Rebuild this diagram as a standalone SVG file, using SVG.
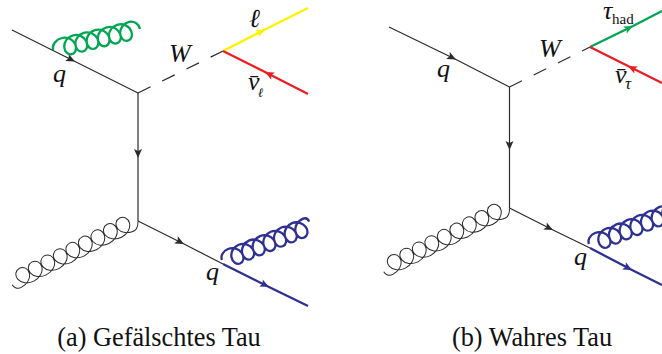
<svg xmlns="http://www.w3.org/2000/svg" width="662" height="354" viewBox="0 0 662 354">
<style>
.k{fill:none;stroke:#2b2b2b;stroke-width:1.2}
.d{stroke-dasharray:14 13}
.y,.r,.g,.b{fill:none;stroke-width:2.3}
.y{stroke:#fff200}.r{stroke:#ed1c24}.g{stroke:#00a651}.b{stroke:#2e3192}
.coil{fill:none}
.gk{stroke:#2b2b2b;stroke-width:1}
text{font-family:"Liberation Serif","Times New Roman",serif;fill:#111}
.m{font-size:26px;font-style:italic}
.s{font-size:17px;font-style:italic}
.u{font-size:15px}
.c{font-size:26.300px;text-anchor:middle}
</style>
<defs>
<marker id="ak" markerUnits="userSpaceOnUse" markerWidth="12" markerHeight="10" refX="10" refY="5" orient="auto" overflow="visible"><path d="M1 1L10 5L1 9L3 5Z" fill="#2b2b2b"/></marker>
<marker id="ay" markerUnits="userSpaceOnUse" markerWidth="12" markerHeight="10" refX="10" refY="5" orient="auto" overflow="visible"><path d="M1 1L10 5L1 9L3 5Z" fill="#fff200"/></marker>
<marker id="ar" markerUnits="userSpaceOnUse" markerWidth="12" markerHeight="10" refX="10" refY="5" orient="auto" overflow="visible"><path d="M1 1L10 5L1 9L3 5Z" fill="#ed1c24"/></marker>
<marker id="ag" markerUnits="userSpaceOnUse" markerWidth="12" markerHeight="10" refX="10" refY="5" orient="auto" overflow="visible"><path d="M1 1L10 5L1 9L3 5Z" fill="#00a651"/></marker>
<marker id="ab" markerUnits="userSpaceOnUse" markerWidth="12" markerHeight="10" refX="10" refY="5" orient="auto" overflow="visible"><path d="M1 1L10 5L1 9L3 5Z" fill="#2e3192"/></marker>
<path id="coil6" class="coil" d="M-11.500 9.600C-11.500 4 -6 0 0 0
c5.700 0 10.375 4 11.375 9c1 5 -1.925 9 -5.625 9c-3.700 0 -6.625 -4 -5.625 -9c1 -5 5.675 -9 11.375 -9
c5.700 0 10.375 4 11.375 9c1 5 -1.925 9 -5.625 9c-3.700 0 -6.625 -4 -5.625 -9c1 -5 5.675 -9 11.375 -9
c5.700 0 10.375 4 11.375 9c1 5 -1.925 9 -5.625 9c-3.700 0 -6.625 -4 -5.625 -9c1 -5 5.675 -9 11.375 -9
c5.700 0 10.375 4 11.375 9c1 5 -1.925 9 -5.625 9c-3.700 0 -6.625 -4 -5.625 -9c1 -5 5.675 -9 11.375 -9
c5.700 0 10.375 4 11.375 9c1 5 -1.925 9 -5.625 9c-3.700 0 -6.625 -4 -5.625 -9c1 -5 5.675 -9 11.375 -9
c5.700 0 10.375 4 11.375 9c1 5 -1.925 9 -5.625 9c-3.700 0 -6.625 -4 -5.625 -9c1 -5 5.675 -9 11.375 -9
c5 0 9 4 9 9.400"/>
<path id="coil7" class="coil" d="M-9.700 8C-9.700 4 -6 0 0 0
c5.700 0 10.375 4 11.375 9c1 5 -1.925 9 -5.625 9c-3.700 0 -6.625 -4 -5.625 -9c1 -5 5.675 -9 11.375 -9
c5.700 0 10.375 4 11.375 9c1 5 -1.925 9 -5.625 9c-3.700 0 -6.625 -4 -5.625 -9c1 -5 5.675 -9 11.375 -9
c5.700 0 10.375 4 11.375 9c1 5 -1.925 9 -5.625 9c-3.700 0 -6.625 -4 -5.625 -9c1 -5 5.675 -9 11.375 -9
c5.700 0 10.375 4 11.375 9c1 5 -1.925 9 -5.625 9c-3.700 0 -6.625 -4 -5.625 -9c1 -5 5.675 -9 11.375 -9
c5.700 0 10.375 4 11.375 9c1 5 -1.925 9 -5.625 9c-3.700 0 -6.625 -4 -5.625 -9c1 -5 5.675 -9 11.375 -9
c5.700 0 10.375 4 11.375 9c1 5 -1.925 9 -5.625 9c-3.700 0 -6.625 -4 -5.625 -9c1 -5 5.675 -9 11.375 -9
c5.700 0 10.375 4 11.375 9c1 5 -1.925 9 -5.625 9c-3.700 0 -6.625 -4 -5.625 -9c1 -5 5.675 -9 11.375 -9
c3 0 5 2 5 5"/>
<path id="coil9" class="coil" d="M-8 7C-6 3 -3 0 0 0
c6.700 0 12.300 4 13.500 9c1.200 5 -2.200 9 -6.500 9c-4.300 0 -7.700 -4 -6.500 -9c1.200 -5 6.800 -9 13.500 -9
c6.700 0 12.300 4 13.500 9c1.200 5 -2.200 9 -6.500 9c-4.300 0 -7.700 -4 -6.500 -9c1.200 -5 6.800 -9 13.500 -9
c6.700 0 12.300 4 13.500 9c1.200 5 -2.200 9 -6.500 9c-4.300 0 -7.700 -4 -6.500 -9c1.200 -5 6.800 -9 13.500 -9
c6.700 0 12.300 4 13.500 9c1.200 5 -2.200 9 -6.500 9c-4.300 0 -7.700 -4 -6.500 -9c1.200 -5 6.800 -9 13.500 -9
c6.700 0 12.300 4 13.500 9c1.200 5 -2.200 9 -6.500 9c-4.300 0 -7.700 -4 -6.500 -9c1.200 -5 6.800 -9 13.500 -9
c6.700 0 12.300 4 13.500 9c1.200 5 -2.200 9 -6.500 9c-4.300 0 -7.700 -4 -6.500 -9c1.200 -5 6.800 -9 13.500 -9
c6.700 0 12.300 4 13.500 9c1.200 5 -2.200 9 -6.500 9c-4.300 0 -7.700 -4 -6.500 -9c1.200 -5 6.800 -9 13.500 -9
c6.700 0 12.300 4 13.500 9c1.200 5 -2.200 9 -6.500 9c-4.300 0 -7.700 -4 -6.500 -9c1.200 -5 6.800 -9 13.500 -9
c6.700 0 12.300 4 13.500 9c1.200 5 -2.200 9 -6.500 9c-4.300 0 -7.700 -4 -6.500 -9c1.200 -5 6.800 -9 13.500 -9
c4 0 7 3 7 6.400"/>
</defs>
<g id="connectors">
<g id="connectors-a">
<polyline class="k" points="12,30 75,61.500 138,93" marker-mid="url(#ak)"/>
<polyline class="k" points="138,93 138,158 138,221" marker-mid="url(#ak)"/>
<polyline class="k" points="138,221 184,244 223,264" marker-mid="url(#ak)"/>
<line class="k d" x1="138" y1="93" x2="223" y2="51"/>
<polyline class="y" points="223,51 265,29.500 308,8" marker-mid="url(#ay)"/>
<polyline class="r" points="308,94 265,72 223,51" marker-mid="url(#ar)"/>
<polyline class="b" points="223,264 269,287 308,306" marker-mid="url(#ab)"/>
<use href="#coil9" class="gk" transform="translate(134,231) rotate(153.400)"/>
<use href="#coil6" class="g" transform="translate(62,38) rotate(-13.500)"/>
<use href="#coil7" class="b" transform="translate(228,249) rotate(-22)"/>
</g>
<g id="connectors-b">
<polyline class="k" points="389,27 456,59.500 509.500,87" marker-mid="url(#ak)"/>
<polyline class="k" points="509.500,87 509.500,150 509.500,208" marker-mid="url(#ak)"/>
<polyline class="k" points="509.500,208 553,230 590,248" marker-mid="url(#ak)"/>
<line class="k d" x1="509.500" y1="87" x2="590" y2="47"/>
<polyline class="g" points="590,47 633,26 662,11" marker-mid="url(#ag)"/>
<polyline class="r" points="662,83 628,66 590,47" marker-mid="url(#ar)"/>
<polyline class="b" points="590,248 632,270 662,285" marker-mid="url(#ab)"/>
<use href="#coil9" class="gk" transform="translate(505.500,218) rotate(153.400)"/>
<use href="#coil7" class="b" transform="translate(595,233) rotate(-22)"/>
</g>
</g>
<g id="labels-a">
<text class="m" x="53" y="82">q</text>
<text class="m" x="169" y="62">W</text>
<text class="m" x="249" y="27" style="font-family:'DejaVu Serif',serif;font-size:26px">ℓ</text>
<text class="m" x="248" y="90">v&#x304;</text>
<text class="s" x="258" y="97" style="font-family:'DejaVu Serif',serif;font-size:13px">ℓ</text>
<text class="m" x="206" y="280">q</text>
<text class="c" x="159" y="346">(a) Gefälschtes Tau</text>
</g>
<g id="labels-b">
<text class="m" x="437" y="77">q</text>
<text class="m" x="539" y="57">W</text>
<text class="m" x="603" y="19">τ</text>
<text class="u" x="612" y="24">had</text>
<text class="m" x="615" y="83">v&#x304;</text>
<text class="s" x="625" y="89">τ</text>
<text class="m" x="574" y="265">q</text>
<text class="c" x="532" y="346">(b) Wahres Tau</text>
</g>
</svg>
